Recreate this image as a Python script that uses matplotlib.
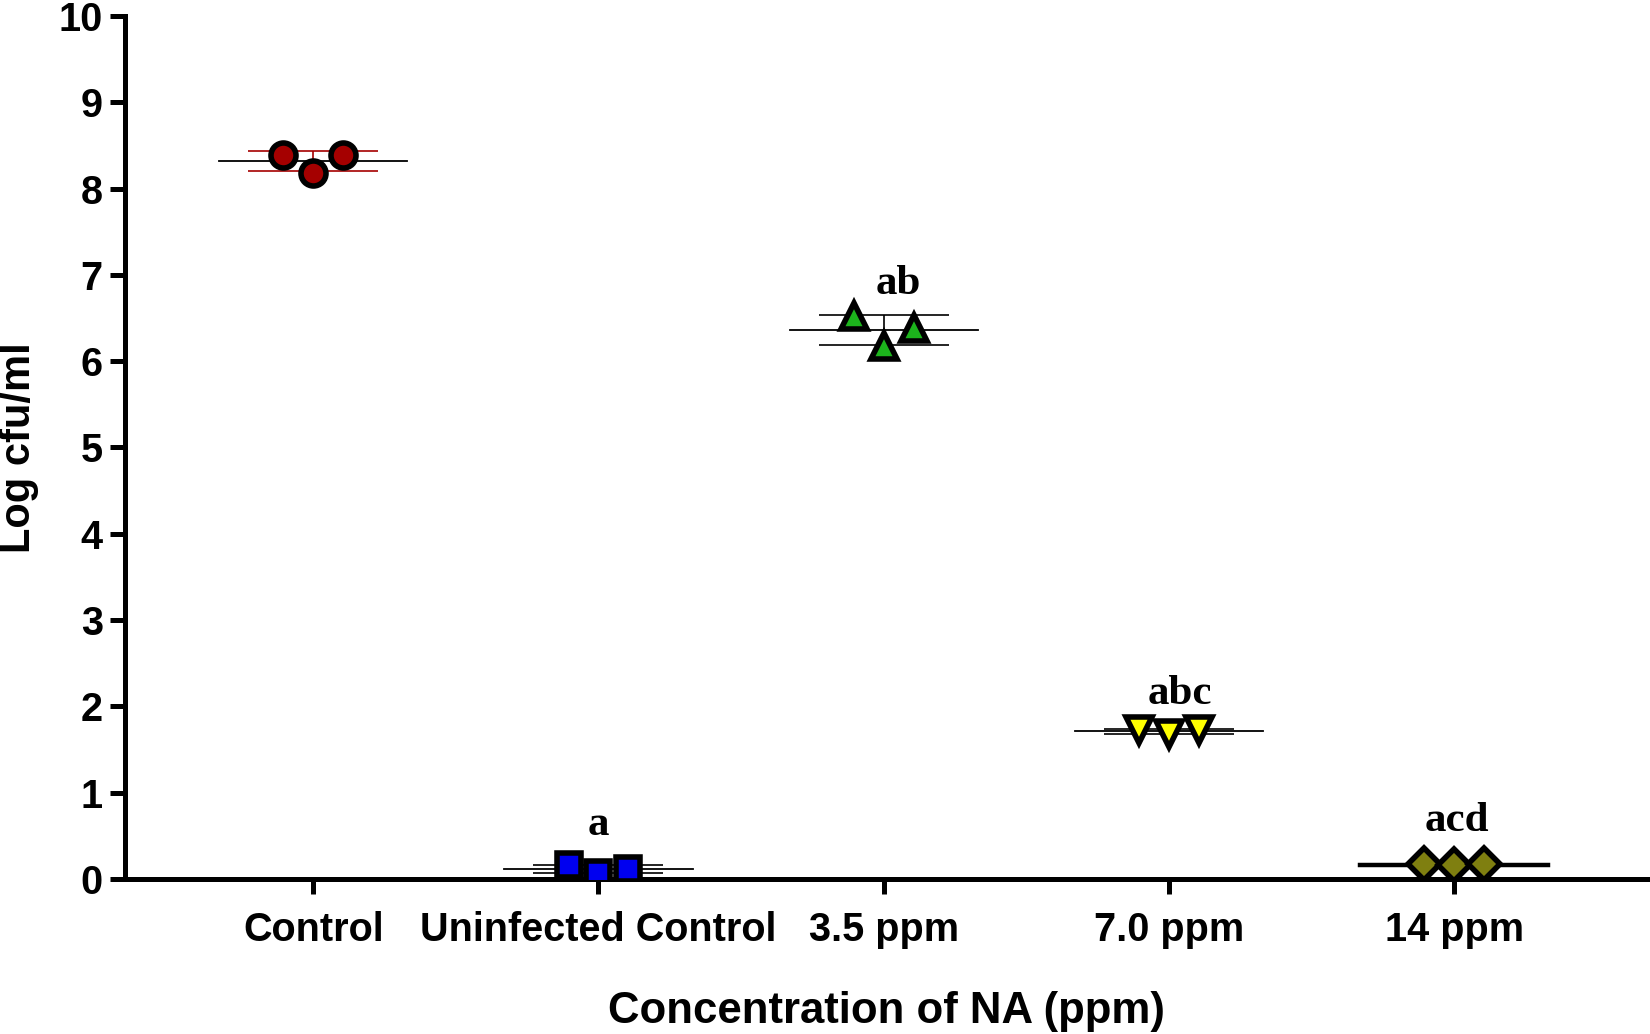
import numpy as np
import matplotlib.pyplot as plt

# Groups and replicate values (log cfu/ml)
groups = ['Control', 'Uninfected Control', '3.5 ppm', '7.0 ppm', '14 ppm']
control = [8.39, 8.18, 8.39]
uninfected = [0.16, 0.07, 0.11]
ppm_3_5 = [6.52, 6.18, 6.39]
ppm_7_0 = [1.73, 1.68, 1.72]
ppm_14 = [0.17, 0.16, 0.17]
letters = ['', 'a', 'ab', 'abc', 'acd']
letter_y = [0, 0.63, 6.9, 2.14, 0.67]

series = [control, uninfected, ppm_3_5, ppm_7_0, ppm_14]
markers = ['o', 's', '^', 'v', 'D']
fills = ['#a50000', '#0000f0', '#1cb41c', '#ffff00', '#7f7f10']
msizes = [18, 17, 19, 19, 16]
err_colors = ['#a50000', 'black', 'black', 'black', 'black']
mean_lw = [1.3, 1.3, 1.3, 1.3, 3.2]

fig = plt.figure(figsize=(16.5, 10.34), dpi=100)
ax = fig.add_axes([0.0758, 0.15, 0.923, 0.8345])

jitter = np.array([-0.105, 0.0, 0.105])
for i, vals in enumerate(series):
    vals = np.array(vals)
    m = vals.mean()
    sd = vals.std(ddof=1)
    ax.plot([i - 0.33, i + 0.33], [m, m], color='black', lw=mean_lw[i], zorder=2)
    ax.errorbar(i, m, yerr=sd, fmt='none', ecolor=err_colors[i], elinewidth=1.2,
                capsize=47, capthick=1.2, zorder=2)
    ax.plot(i + jitter, vals, linestyle='none', marker=markers[i], ms=msizes[i],
            mfc=fills[i], mec='black', mew=4, zorder=3)
    if letters[i]:
        ax.text(i + [0, 0, 0.05, 0.04, 0.01][i], letter_y[i], letters[i],
                ha='center', va='center', fontsize=31, fontweight='bold',
                family='Liberation Serif')

ax.set_xlim(-0.66, 4.68)
ax.set_ylim(0, 10)
ax.set_yticks(range(0, 11))
ax.set_xticks(range(len(groups)))
ax.set_xticklabels(groups)
for s in ['top', 'right']:
    ax.spines[s].set_visible(False)
for s in ['left', 'bottom']:
    ax.spines[s].set_linewidth(3.6)
ax.tick_params(width=3.6, length=11, labelsize=28.5, pad=5)
ax.tick_params(axis='x', pad=12)
for lab in ax.get_xticklabels() + ax.get_yticklabels():
    lab.set_fontweight('bold')
    lab.set_family('Liberation Sans')

ax.set_xlabel('Concentration of NA (ppm)', fontsize=31.5, fontweight='bold',
              family='Liberation Sans', labelpad=30)
ax.set_ylabel('Log cfu/ml', fontsize=30, fontweight='bold',
              family='Liberation Sans', labelpad=14)

fig.savefig('out.png', dpi=100)
